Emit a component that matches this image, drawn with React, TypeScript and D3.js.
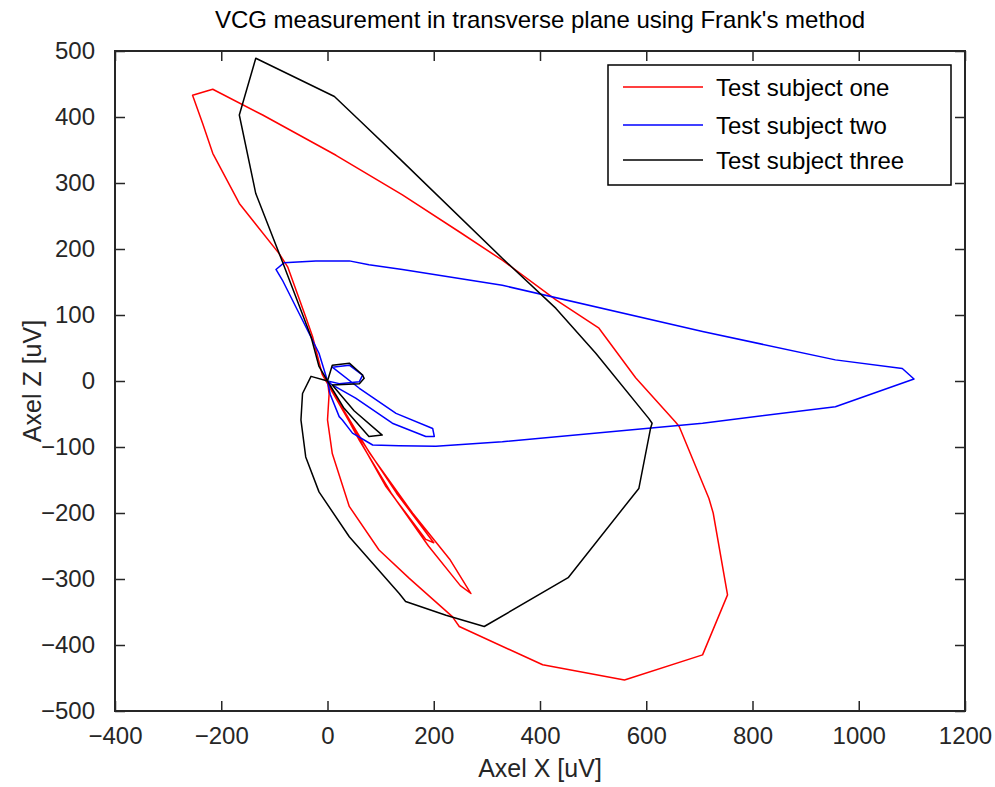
import { useEffect, useRef } from 'react';
import * as d3 from 'd3';

// [x, z] samples in uV
const subjectOne: [number, number][] = [
  [0, 0], [20, -30], [80, -110], [160, -200], [230, -270], [270, -322], [250, -310],
  [190, -250], [120, -170], [60, -90], [20, -30], [60, -85], [130, -170], [200, -245],
  [185, -240], [110, -160], [40, -60], [-10, 10], [-28, 67], [-41, 97], [-75, 173],
  [-91, 193], [-166, 269], [-216, 345], [-235, 390], [-254, 433], [-216, 442],
  [-122, 403], [16, 342], [141, 282], [250, 225], [329, 183], [430, 123], [511, 80],
  [580, 5], [655, -62], [662, -69], [718, -178], [726, -200], [753, -324], [706, -415],
  [559, -453], [405, -430], [248, -372], [235, -357], [154, -299], [97, -256],
  [41, -190], [9, -110], [0, -59], [3, -20], [0, 0],
];

const subjectTwo: [number, number][] = [
  [0, 0], [-16, 42], [-47, 92], [-85, 153], [-97, 169], [-82, 179], [-22, 182],
  [41, 182], [78, 176], [141, 169], [329, 145], [706, 75], [956, 32], [1082, 19],
  [1104, 3], [956, -39], [706, -64], [329, -92], [204, -99], [135, -98], [85, -97],
  [47, -79], [28, -59], [22, -54], [5, -20], [0, 0], [9, -6], [53, -26], [122, -64],
  [185, -84], [201, -84], [198, -72], [129, -49], [60, -11], [9, 21], [41, 24],
  [66, 9], [60, -1], [22, -4], [0, 0],
];

const subjectThree: [number, number][] = [
  [0, 0], [-16, 22], [-31, 67], [-85, 181], [-135, 284], [-166, 403], [-135, 489],
  [13, 431], [60, 395], [138, 335], [329, 186], [430, 110], [505, 42], [605, -57],
  [611, -64], [608, -72], [586, -163], [571, -178], [453, -298], [295, -372],
  [223, -355], [147, -334], [135, -322], [41, -236], [-16, -168], [-41, -115],
  [-50, -59], [-47, -19], [-31, 7], [0, 0], [9, 24], [41, 27], [66, 9], [69, 4],
  [60, -4], [9, -6], [50, -45], [103, -82], [78, -84], [30, -40], [0, 0],
];

const seriesNames = ['Test subject one', 'Test subject two', 'Test subject three'];
const seriesColors = ['#ff0000', '#0000ff', '#000000'];
const xTicks = [-400, -200, 0, 200, 400, 600, 800, 1000, 1200];
const zTicks = [-500, -400, -300, -200, -100, 0, 100, 200, 300, 400, 500];

const App = () => {
  const svgRef = useRef<SVGSVGElement>(null);

  useEffect(() => {
    const svg = d3.select(svgRef.current);
    svg.selectAll('*').remove();

    const left = 115, right = 965, top = 51, bottom = 711;
    const font = "'Liberation Sans', Arial, sans-serif";

    const x = d3.scaleLinear().domain([-400, 1200]).range([left, right]);
    const y = d3.scaleLinear().domain([-500, 500]).range([bottom, top]);

    svg.append('rect')
      .attr('x', 0).attr('y', 0).attr('width', 995).attr('height', 787)
      .attr('fill', '#fff');

    // data
    const line = d3.line<[number, number]>().x(d => x(d[0])).y(d => y(d[1]));
    const gData = svg.append('g').attr('fill', 'none').attr('stroke-width', 1.5);
    [subjectOne, subjectTwo, subjectThree].forEach((s, i) => {
      gData.append('path')
        .attr('d', line(s))
        .attr('stroke', seriesColors[i])
        .attr('stroke-linejoin', 'round');
    });

    // axes, ticks pointing inward on all four sides
    const axisStyle = (g: d3.Selection<SVGGElement, unknown, null, undefined>) => {
      g.select('.domain').remove();
      g.selectAll('line').attr('stroke', '#262626').attr('stroke-width', 1.5);
      g.selectAll('text')
        .attr('fill', '#262626')
        .attr('font-family', font)
        .attr('font-size', 24);
    };

    svg.append('g')
      .attr('transform', `translate(0,${bottom})`)
      .call(d3.axisBottom(x).tickValues(xTicks).tickSize(-10).tickPadding(16).tickFormat(d3.format('d')))
      .call(axisStyle);
    svg.append('g')
      .attr('transform', `translate(0,${top})`)
      .call(d3.axisTop(x).tickValues(xTicks).tickSize(-10).tickFormat(() => ''))
      .call(axisStyle);
    svg.append('g')
      .attr('transform', `translate(${left},0)`)
      .call(d3.axisLeft(y).tickValues(zTicks).tickSize(-10).tickPadding(20).tickFormat(d3.format('d')))
      .call(axisStyle);
    svg.append('g')
      .attr('transform', `translate(${right},0)`)
      .call(d3.axisRight(y).tickValues(zTicks).tickSize(-10).tickFormat(() => ''))
      .call(axisStyle);

    svg.append('rect')
      .attr('x', left).attr('y', top)
      .attr('width', right - left).attr('height', bottom - top)
      .attr('fill', 'none').attr('stroke', '#262626').attr('stroke-width', 2);

    // title + labels
    svg.append('text')
      .attr('x', (left + right) / 2).attr('y', 28)
      .attr('text-anchor', 'middle')
      .attr('font-family', font).attr('font-size', 24)
      .text("VCG measurement in transverse plane using Frank's method");

    svg.append('text')
      .attr('x', (left + right) / 2).attr('y', 777)
      .attr('text-anchor', 'middle')
      .attr('font-family', font).attr('font-size', 25).attr('fill', '#262626')
      .text('Axel X [uV]');

    svg.append('text')
      .attr('transform', `translate(41,${y(0)}) rotate(-90)`)
      .attr('text-anchor', 'middle')
      .attr('font-family', font).attr('font-size', 25).attr('fill', '#262626')
      .text('Axel Z [uV]');

    // legend
    const legend = svg.append('g');
    legend.append('rect')
      .attr('x', 608).attr('y', 65).attr('width', 343).attr('height', 120)
      .attr('fill', '#fff').attr('stroke', '#000').attr('stroke-width', 1.5);
    const rowY = [87, 125, 160];
    seriesNames.forEach((name, i) => {
      legend.append('line')
        .attr('x1', 623).attr('x2', 703)
        .attr('y1', rowY[i]).attr('y2', rowY[i])
        .attr('stroke', seriesColors[i]).attr('stroke-width', 1.5);
      legend.append('text')
        .attr('x', 716).attr('y', rowY[i])
        .attr('dominant-baseline', 'central')
        .attr('font-family', font).attr('font-size', 24)
        .text(name);
    });
  }, []);

  return (
    <svg
      ref={svgRef}
      width={995}
      height={787}
      style={{ position: 'absolute', left: 0, top: 0, display: 'block' }}
    />
  );
};

export default App;
